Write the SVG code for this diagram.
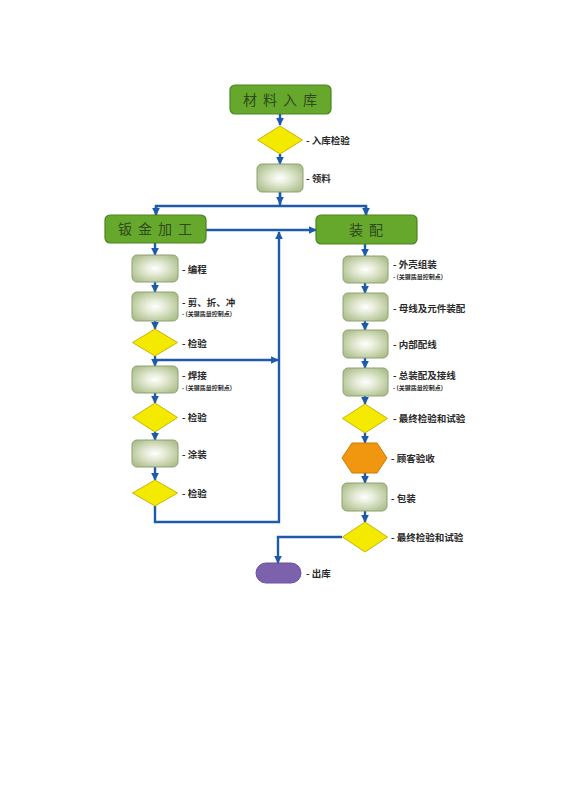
<svg xmlns="http://www.w3.org/2000/svg" width="565" height="800" viewBox="0 0 565 800">
<style>
.bg{fill:#ffffff}
.main{fill:#66a82c;stroke:#4a8420;stroke-width:1.2}
.mt{font-family:"Noto Sans CJK SC",sans-serif;font-size:14px;fill:#2e4a1c;text-anchor:middle;letter-spacing:6px}
.step{fill:url(#gbox);stroke:#8da275;stroke-width:1}
.dia{fill:#f3ea00;stroke:#c8b400;stroke-width:1}
.hex{fill:#f0960f;stroke:#d07a00;stroke-width:1}
.pill{fill:#7c62ad;stroke:#6a50a0;stroke-width:1}
.lb{font-family:"Noto Sans CJK SC",sans-serif;font-size:9.5px;font-weight:bold;fill:#2a2a2a}
.sub{font-family:"Noto Sans CJK SC",sans-serif;font-size:6px;font-weight:bold;fill:#2a2a2a}
.ln{fill:none;stroke:#1d5aab;stroke-width:2.4;stroke-linejoin:miter}
</style>
<defs>
<radialGradient id="gbox" cx="0.5" cy="0.5" r="0.6">
<stop offset="0" stop-color="#ffffff"/>
<stop offset="0.35" stop-color="#e6ecd8"/>
<stop offset="1" stop-color="#aebf8c"/>
</radialGradient>
<marker id="ah" viewBox="0 0 10 10" refX="9" refY="5" markerWidth="3.2" markerHeight="3.2" orient="auto" markerUnits="strokeWidth">
<path d="M0,0 L10,5 L0,10 z" fill="#1d5aab"/>
</marker>
</defs>
<rect class="bg" x="0" y="0" width="565" height="800"/>

<g id="connectors">
<path class="ln" d="M280,114 V125" marker-end="url(#ah)"/>
<path class="ln" d="M280,154 V164" marker-end="url(#ah)"/>
<path class="ln" d="M280,192 V205"/>
<path class="ln" d="M280,192 V204" marker-end="url(#ah)"/>
<path class="ln" d="M156,215 V206 H366 V215" />
<path class="ln" d="M156,206 V215" marker-end="url(#ah)"/>
<path class="ln" d="M366,206 V215" marker-end="url(#ah)"/>
<path class="ln" d="M206,230 H316" marker-end="url(#ah)"/>
<path class="ln" d="M155,506 V522 H279 V232" marker-end="url(#ah)"/>
<path class="ln" d="M155,360 H278" marker-end="url(#ah)"/>
<path class="ln" d="M155,243 V255" marker-end="url(#ah)"/>
<path class="ln" d="M155,282 V292" marker-end="url(#ah)"/>
<path class="ln" d="M155,321 V329" marker-end="url(#ah)"/>
<path class="ln" d="M155,356 V366" marker-end="url(#ah)"/>
<path class="ln" d="M155,393 V403" marker-end="url(#ah)"/>
<path class="ln" d="M155,432 V440" marker-end="url(#ah)"/>
<path class="ln" d="M155,467 V480" marker-end="url(#ah)"/>
<path class="ln" d="M365,244 V256" marker-end="url(#ah)"/>
<path class="ln" d="M365,283 V293" marker-end="url(#ah)"/>
<path class="ln" d="M365,321 V330" marker-end="url(#ah)"/>
<path class="ln" d="M365,358 V368" marker-end="url(#ah)"/>
<path class="ln" d="M365,396 V404" marker-end="url(#ah)"/>
<path class="ln" d="M365,433 V443" marker-end="url(#ah)"/>
<path class="ln" d="M365,473 V483" marker-end="url(#ah)"/>
<path class="ln" d="M365,511 V522" marker-end="url(#ah)"/>
<path class="ln" d="M342,537 H278 V563" marker-end="url(#ah)"/>
</g>

<g id="n-cailiao">
<rect class="main" x="230" y="85" width="101" height="29" rx="5"/>
<text class="mt" x="283" y="104.5">材料入库</text>
</g>
<g id="n-rukujianyan">
<polygon class="dia" points="280,126 302.5,140 280,154 257.5,140"/>
<text class="lb" x="306" y="143.5">- 入库检验</text>
</g>
<g id="n-lingliao">
<rect class="step" x="257" y="164" width="46" height="28" rx="5"/>
<text class="lb" x="306" y="181.5">- 领料</text>
</g>
<g id="n-banjin">
<rect class="main" x="105" y="215" width="101" height="28" rx="5"/>
<text class="mt" x="158" y="234">钣金加工</text>
</g>
<g id="n-zhuangpei">
<rect class="main" x="316" y="215" width="101" height="29" rx="5"/>
<text class="mt" x="369" y="234.5">装配</text>
</g>

<g id="n-biancheng">
<rect class="step" x="132" y="255" width="46" height="27" rx="5"/>
<text class="lb" x="182" y="272.5">- 编程</text>
</g>
<g id="n-jianzhechong">
<rect class="step" x="132" y="292" width="46" height="29" rx="5"/>
<text class="lb" x="182" y="305.5">- 剪、折、冲</text>
<text class="sub" x="182" y="315.5">- (关键质量控制点)</text>
</g>
<g id="n-jianyan1">
<polygon class="dia" points="155,329 177.5,342.5 155,356 132.5,342.5"/>
<text class="lb" x="182" y="346.5">- 检验</text>
</g>
<g id="n-hanjie">
<rect class="step" x="132" y="366" width="46" height="27" rx="5"/>
<text class="lb" x="182" y="378.5">- 焊接</text>
<text class="sub" x="182" y="389.5">- (关键质量控制点)</text>
</g>
<g id="n-jianyan2">
<polygon class="dia" points="155,403 177.5,417.5 155,432 132.5,417.5"/>
<text class="lb" x="182" y="420.5">- 检验</text>
</g>
<g id="n-tuzhuang">
<rect class="step" x="132" y="440" width="46" height="27" rx="5"/>
<text class="lb" x="182" y="457.5">- 涂装</text>
</g>
<g id="n-jianyan3">
<polygon class="dia" points="155,480 177.5,493 155,506 132.5,493"/>
<text class="lb" x="182" y="496.5">- 检验</text>
</g>

<g id="n-waike">
<rect class="step" x="343" y="256" width="45" height="27" rx="5"/>
<text class="lb" x="393" y="267.5">- 外壳组装</text>
<text class="sub" x="393" y="278.5">- (关键质量控制点)</text>
</g>
<g id="n-muxian">
<rect class="step" x="343" y="293" width="45" height="28" rx="5"/>
<text class="lb" x="393" y="311.5">- 母线及元件装配</text>
</g>
<g id="n-neibu">
<rect class="step" x="343" y="330" width="45" height="28" rx="5"/>
<text class="lb" x="393" y="347.5">- 内部配线</text>
</g>
<g id="n-zongzhuang">
<rect class="step" x="343" y="368" width="45" height="28" rx="5"/>
<text class="lb" x="393" y="378.5">- 总装配及接线</text>
<text class="sub" x="393" y="389.5">- (关键质量控制点)</text>
</g>
<g id="n-zuizhong1">
<polygon class="dia" points="365,404 387.5,418.5 365,433 342.5,418.5"/>
<text class="lb" x="393" y="422">- 最终检验和试验</text>
</g>
<g id="n-guke">
<polygon class="hex" points="342,458 352,443 377,443 387,458 377,473 352,473"/>
<text class="lb" x="391" y="462">- 顾客验收</text>
</g>
<g id="n-baozhuang">
<rect class="step" x="342" y="483" width="45" height="28" rx="5"/>
<text class="lb" x="391" y="501.5">- 包装</text>
</g>
<g id="n-zuizhong2">
<polygon class="dia" points="365,522 387.5,537 365,552 342.5,537"/>
<text class="lb" x="391" y="540.5">- 最终检验和试验</text>
</g>
<g id="n-chuku">
<rect class="pill" x="256" y="563" width="45" height="20" rx="10"/>
<text class="lb" x="306" y="576.5">- 出库</text>
</g>
</svg>
